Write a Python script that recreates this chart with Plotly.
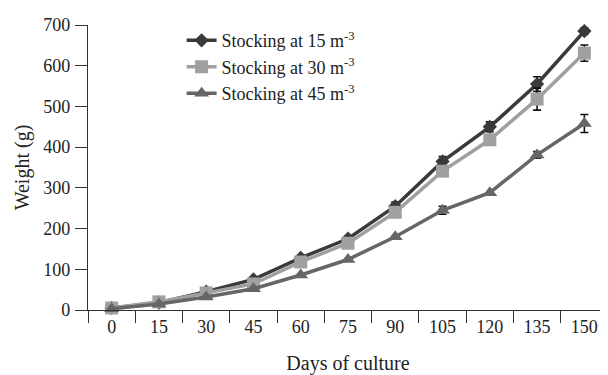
import plotly.graph_objects as go

days = ["0", "15", "30", "45", "60", "75", "90", "105", "120", "135", "150"]

w15 = [5, 18, 45, 75, 128, 175, 255, 365, 450, 555, 685]
e15 = [0, 0, 0, 0, 0, 0, 10, 12, 12, 18, 8]

w30 = [5, 20, 42, 64, 118, 164, 240, 341, 418, 518, 631]
e30 = [0, 0, 0, 0, 0, 0, 0, 0, 0, 27, 20]

w45 = [3, 15, 32, 52, 86, 124, 180, 245, 288, 381, 458]
e45 = [0, 0, 0, 0, 0, 0, 0, 10, 0, 8, 22]

names = ["Stocking at 15 m<sup>-3</sup>", "Stocking at 30 m<sup>-3</sup>", "Stocking at 45 m<sup>-3</sup>"]

FONT = "Liberation Serif, Times New Roman, serif"
FS = 18
TFS = 20

fig = go.Figure()
series = [
    (w15, e15, names[0], "#3a3a3a", "diamond", 11),
    (w30, e30, names[1], "#a0a0a0", "square", 13),
    (w45, e45, names[2], "#666666", "triangle-up", 13),
]
for y, e, name, col, sym, sz in series:
    fig.add_trace(go.Scatter(
        x=days, y=y, name=name, mode="lines+markers",
        line=dict(color=col, width=3.5),
        marker=dict(symbol=sym, size=sz, color=col),
        error_y=dict(type="data", array=e, visible=True, color="#111111", thickness=1.6, width=4),
        cliponaxis=False,
    ))

# page body has an 8px default margin, so the figure is 8px smaller than the window
fig.update_layout(
    width=600, height=367,
    margin=dict(l=80, r=0, t=17, b=65),
    paper_bgcolor="white", plot_bgcolor="white",
    font=dict(family=FONT, size=FS, color="#222222"),
    showlegend=True,
    legend=dict(x=0.18, y=1.01, xanchor="left", yanchor="top",
                bgcolor="rgba(0,0,0,0)", font=dict(size=FS, family=FONT),
                itemwidth=30, tracegroupgap=0),
    xaxis=dict(
        type="category", range=[-0.5, 10.5], automargin=False,
        showline=True, linecolor="#333333", linewidth=1.2,
        ticks="outside", ticklen=12, tickcolor="#333333", tickwidth=1.2,
        tickson="boundaries", showgrid=False, zeroline=False,
        title=dict(text="Days of culture", standoff=24, font=dict(size=TFS)),
        tickfont=dict(size=FS),
    ),
    yaxis=dict(
        range=[0, 700], tickvals=[0, 100, 200, 300, 400, 500, 600, 700],
        automargin=False,
        showline=True, linecolor="#333333", linewidth=1.2,
        ticks="outside", ticklen=12, tickcolor="#333333", tickwidth=1.2,
        ticklabelstandoff=1,
        showgrid=False, zeroline=False,
        title=dict(text="Weight (g)", standoff=8, font=dict(size=TFS)),
        tickfont=dict(size=FS),
    ),
)

fig.write_html("out.html")
